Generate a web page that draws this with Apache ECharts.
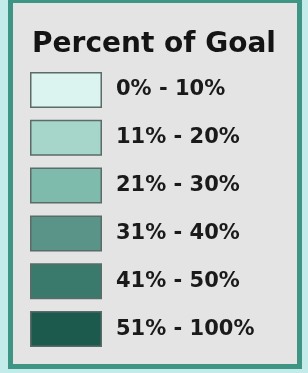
<!DOCTYPE html>
<html>
<head>
<meta charset="utf-8">
<script src="https://cdn.jsdelivr.net/npm/echarts@6/dist/echarts.min.js"></script>
<style>
  html, body { margin: 0; padding: 0; background: #c3ebea; }
  #frame {
    position: absolute; left: 8px; top: -2px; width: 284px; height: 361px;
    border: 5px solid #3f9583; background: #e4e4e4;
  }
  #main { position: absolute; left: 0; top: 0; width: 308px; height: 373px; }
</style>
</head>
<body>
<div id="frame"></div>
<div id="main"></div>
<script>
// legend classes
var titleText = 'Percent of Goal';
var ranges = ['0% - 10%', '11% - 20%', '21% - 30%', '31% - 40%', '41% - 50%', '51% - 100%'];
var swatchColors = ['#dcf4ef', '#a6d5ca', '#7fbbad', '#5a9488', '#3a7a6c', '#1c5a4e'];
var swatchValues = [1, 1, 1, 1, 1, 1];

var myChart = echarts.init(document.getElementById('main'));

var option = {
  animation: false,
  title: {
    text: titleText,
    left: 'center',
    top: 26,
    textStyle: {
      fontFamily: 'DejaVu Sans',
      fontWeight: 'bold',
      fontSize: 28,
      color: '#141414'
    }
  },
  grid: { left: 30, top: 66, width: 72, height: 287 },
  xAxis: { type: 'value', min: 0, max: 1, show: false },
  yAxis: {
    type: 'category',
    data: ranges,
    inverse: true,
    show: false
  },
  series: [{
    type: 'bar',
    barWidth: 36,
    data: swatchValues.map(function (v, i) {
      return { value: v, itemStyle: { color: swatchColors[i] } };
    }),
    itemStyle: { borderColor: '#5b6b67', borderWidth: 1.5 },
    label: {
      show: true,
      position: 'right',
      distance: 14,
      formatter: function (p) { return ranges[p.dataIndex]; },
      fontFamily: 'DejaVu Sans',
      fontWeight: 'bold',
      fontSize: 21,
      color: '#1a1a1a'
    }
  }]
};
myChart.setOption(option);
</script>
</body>
</html>
